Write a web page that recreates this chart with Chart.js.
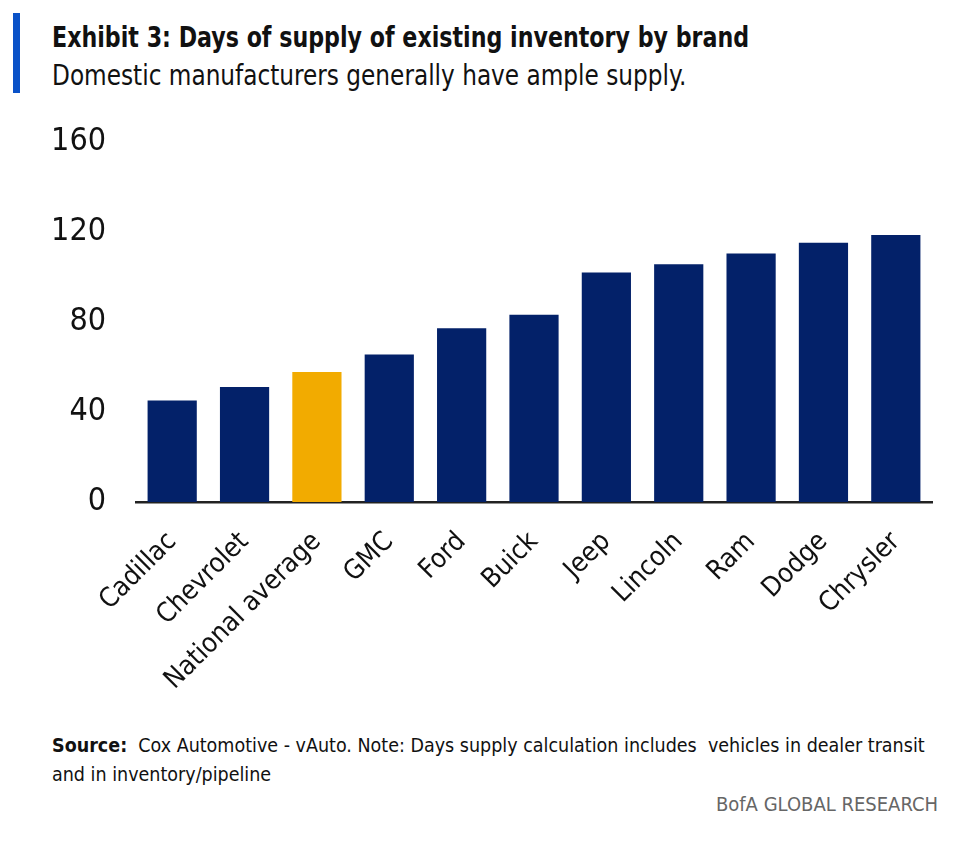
<!DOCTYPE html>
<html>
<head>
<meta charset="utf-8">
<script src="https://cdn.jsdelivr.net/npm/chart.js@4.4.0/dist/chart.umd.min.js"></script>
<style>
  html, body { margin:0; padding:0; background:#fff; }
  body { width:960px; height:843px; position:relative; overflow:hidden; font-family:"DejaVu Sans Condensed","Liberation Sans Narrow",sans-serif; color:#111; }
  #accent { position:absolute; left:13px; top:13px; width:7px; height:80px; background:#0a52c8; }
  #title { position:absolute; left:52px; top:20px; font-size:29px; font-weight:bold; white-space:nowrap; transform:scaleX(0.85); transform-origin:left top; }
  #subtitle { position:absolute; left:52px; top:58px; font-size:29px; font-weight:300; white-space:nowrap; transform:scaleX(0.89); transform-origin:left top; }
  #wrap { position:absolute; left:0; top:100px; width:960px; height:630px; }
  #source { position:absolute; left:52px; top:731px; font-size:19.5px; line-height:29px; width:900px; white-space:nowrap; }
  #brand { position:absolute; right:22px; top:792px; font-size:20px; color:#666; white-space:nowrap; }
</style>
</head>
<body>
<div id="accent"></div>
<div id="title">Exhibit 3: Days of supply of existing inventory by brand</div>
<div id="subtitle">Domestic manufacturers generally have ample supply.</div>
<div id="wrap"><canvas id="c"></canvas></div>
<div id="source"><b>Source:</b>&nbsp; Cox Automotive - vAuto. Note: Days supply calculation includes&nbsp; vehicles in dealer transit<br>and in inventory/pipeline</div>
<div id="brand">BofA GLOBAL RESEARCH</div>
<script>
const categories = ["Cadillac","Chevrolet","National average","GMC","Ford","Buick","Jeep","Lincoln","Ram","Dodge","Chrysler"];
const daysSupply = [45, 51, 57.6, 65.4, 77, 83, 101.8, 105.4, 110.2, 115, 118.4];
const yTicks = [0, 40, 80, 120, 160];
const highlight = "National average";

const navy = "#032169";
const gold = "#f2ab00";
const fontFam = "'DejaVu Sans Condensed','Liberation Sans Narrow',sans-serif";

new Chart(document.getElementById("c"), {
  type: "bar",
  data: {
    labels: categories,
    datasets: [{
      data: daysSupply,
      backgroundColor: categories.map(c => c === highlight ? gold : navy),
      barPercentage: 0.68,
      categoryPercentage: 1.0,
      borderWidth: 0
    }]
  },
  options: {
    responsive: true,
    maintainAspectRatio: false,
    animation: false,
    layout: { padding: { top: 8, right: 28, left: 0, bottom: 0 } },
    plugins: { legend: { display: false }, tooltip: { enabled: false } },
    scales: {
      x: {
        grid: { display: false },
        border: { display: true, color: "#222", width: 2.5 },
        ticks: {
          color: "#111",
          font: { family: fontFam, size: 27 },
          minRotation: 45, maxRotation: 45, padding: 16, autoSkip: false
        },
        afterFit: s => { s.height = 228; }
      },
      y: {
        min: 0, max: 160,
        grid: { display: false },
        border: { display: false },
        afterBuildTicks: s => { s.ticks = yTicks.map(v => ({ value: v })); },
        ticks: {
          color: "#111",
          font: { family: fontFam, size: 32 },
          padding: 22
        },
        afterFit: s => { s.width = 136; }
      }
    }
  }
});
</script>
</body>
</html>
